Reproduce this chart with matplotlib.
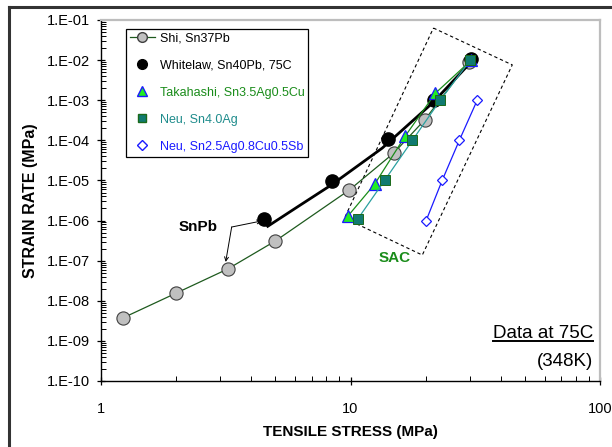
import numpy as np
import matplotlib
matplotlib.use("Agg")
import matplotlib.pyplot as plt
from matplotlib.lines import Line2D

plt.rcParams['font.family'] = ['Liberation Sans', 'DejaVu Sans']

# ---- data ----
shi_x = [1.22, 2.0, 3.22, 5.0, 9.9, 14.9, 19.8, 29.9]
shi_y = [3.7e-9, 1.55e-8, 6.2e-8, 3.1e-7, 5.8e-6, 4.8e-5, 3.2e-4, 9.0e-3]

whitelaw_x = [4.49, 8.4, 14.1, 21.7, 30.5]
whitelaw_y = [1.1e-6, 9.8e-6, 1.07e-4, 1.0e-3, 1.07e-2]
whitelaw_curve_x = [4.66, 6.25, 8.4, 13.4, 21.3, 29.9]
whitelaw_curve_y = [7.2e-7, 2.37e-6, 7.8e-6, 6.4e-5, 8.5e-4, 8.0e-3]

taka_x = [9.77, 12.5, 16.6, 21.9, 30.5]
taka_y = [1.3e-6, 8.1e-6, 1.3e-4, 1.5e-3, 1.0e-2]

neu_ag_x = [10.7, 13.7, 17.7, 22.9, 30.2]
neu_ag_y = [1.1e-6, 1.0e-5, 1.0e-4, 1.0e-3, 1.0e-2]

neu_sb_x = [20.1, 23.3, 27.3, 32.2]
neu_sb_y = [1.0e-6, 1.0e-5, 1.0e-4, 1.0e-3]

box_x = [21.5, 44.5, 19.4, 9.46, 21.5]
box_y = [6.3e-2, 7.6e-3, 1.38e-7, 1.15e-6, 6.3e-2]

labels = ["Shi, Sn37Pb", "Whitelaw, Sn40Pb, 75C", "Takahashi, Sn3.5Ag0.5Cu",
          "Neu, Sn4.0Ag", "Neu, Sn2.5Ag0.8Cu0.5Sb"]
label_colors = ["black", "black", "#1a8c1a", "#1f8c8c", "#1a1aff"]

ytick_vals = [1e-10, 1e-9, 1e-8, 1e-7, 1e-6, 1e-5, 1e-4, 1e-3, 1e-2, 1e-1]
ytick_labels = ["1.E-10", "1.E-09", "1.E-08", "1.E-07", "1.E-06",
                "1.E-05", "1.E-04", "1.E-03", "1.E-02", "1.E-01"]
xtick_vals = [1, 10, 100]
xtick_labels = ["1", "10", "100"]

snpb_text_pos = (2.44, 6.9e-7)
snpb_bend = (3.34, 6.9e-7)
snpb_targets = [(4.41, 9.8e-7), (3.16, 9.3e-8)]
sac_text_pos = (15.0, 1.17e-7)

# ---- figure ----
fig = plt.figure(figsize=(6.12, 4.47), dpi=100)
ax = fig.add_axes([101/612, 1-381/447, 499/612, 361/447])
ax.set_xscale('log')
ax.set_yscale('log')
ax.set_xlim(1, 100)
ax.set_ylim(1e-10, 1e-1)

# outer frame lines
fig.add_artist(Line2D([9/612, 9/612], [0, 1-7/447], transform=fig.transFigure,
                      color='#333333', lw=2.2))
fig.add_artist(Line2D([9/612, 1], [1-7/447, 1-7/447], transform=fig.transFigure,
                      color='#333333', lw=2.2))

# dashed box
ax.plot(box_x, box_y, color='black', lw=0.8, dashes=(3, 2.5), zorder=2)

# Shi
ax.plot(shi_x, shi_y, color='#1e5a1e', lw=0.9, marker='o', ms=9.5,
        mfc='#c0c0c0', mec='#404040', mew=0.8, zorder=3)
# Whitelaw
ax.plot(whitelaw_curve_x, whitelaw_curve_y, color='black', lw=2.0, zorder=4)
ax.plot(whitelaw_x, whitelaw_y, ls='none', marker='o', ms=9.5, mfc='black',
        mec='black', zorder=4)
# Takahashi
ax.plot(taka_x, taka_y, color='#1a8c1a', lw=0.9, marker='^', ms=8,
        mfc='#22ee22', mec='#1a1aff', mew=0.9, zorder=5)
# Neu Sn4.0Ag
ax.plot(neu_ag_x, neu_ag_y, color='#2aa0a0', lw=0.9, marker='s', ms=7,
        mfc='#107a70', mec='#1a6a1a', mew=0.7, zorder=6)
# Neu SAC Sb
ax.plot(neu_sb_x, neu_sb_y, color='#1a1aff', lw=0.9, marker='D', ms=5.5,
        mfc='white', mec='#1a1aff', mew=0.9, zorder=6)

# legend
handles = [
    Line2D([], [], color='#1e5a1e', lw=0.9, marker='o', ms=7, mfc='#c0c0c0', mec='#404040'),
    Line2D([], [], ls='none', marker='o', ms=7, mfc='black', mec='black'),
    Line2D([], [], ls='none', marker='^', ms=7, mfc='#22ee22', mec='#1a1aff'),
    Line2D([], [], ls='none', marker='s', ms=6, mfc='#107a70', mec='#1a6a1a'),
    Line2D([], [], ls='none', marker='D', ms=5, mfc='white', mec='#1a1aff'),
]
leg = ax.legend(handles, labels, loc='upper left', bbox_to_anchor=(0.05, 0.975),
                borderaxespad=0, fontsize=9, frameon=True, fancybox=False,
                edgecolor='black', framealpha=1, labelspacing=1.2,
                handlelength=2.0, handletextpad=0.4, borderpad=0.3)
leg.get_frame().set_linewidth(0.9)
for t, c in zip(leg.get_texts(), label_colors):
    t.set_color(c)

# annotations
ax.text(*snpb_text_pos, "SnPb", ha='center', va='center', fontsize=11,
        fontweight='bold')
for tgt in snpb_targets:
    ax.annotate("", xy=tgt, xytext=snpb_bend,
                arrowprops=dict(arrowstyle='->', lw=0.7, color='black',
                                shrinkA=0, shrinkB=0, mutation_scale=7))
ax.text(*sac_text_pos, "SAC", ha='center', va='center', fontsize=11,
        fontweight='bold', color='#1a8c1a')

t_data = ax.text(0.986, 0.119, "Data at 75C", transform=ax.transAxes,
                 ha='right', va='baseline', fontsize=13.5)
ax.text(0.986, 0.042, "(348K)", transform=ax.transAxes, ha='right',
        va='baseline', fontsize=13.5)

# axes styling
for s in ['top', 'right']:
    ax.spines[s].set_color('#bdbdbd')
    ax.spines[s].set_linewidth(1.6)
for s in ['left', 'bottom']:
    ax.spines[s].set_color('black')
    ax.spines[s].set_linewidth(1.0)

ax.set_yticks(ytick_vals)
ax.set_yticklabels(ytick_labels)
ax.set_xticks(xtick_vals)
ax.set_xticklabels(xtick_labels)
ax.tick_params(which='major', direction='inout', length=6, width=0.9,
               labelsize=10.5, top=False, right=False)
ax.tick_params(which='minor', direction='in', length=3.5, width=0.7,
               top=False, right=False)
ax.tick_params(axis='y', which='major', pad=5)
ax.tick_params(axis='x', which='major', pad=12)
ax.yaxis.set_minor_locator(matplotlib.ticker.LogLocator(base=10, subs=np.arange(2, 10), numticks=20))
ax.xaxis.set_minor_locator(matplotlib.ticker.LogLocator(base=10, subs=np.arange(2, 10), numticks=20))
ax.yaxis.set_minor_formatter(matplotlib.ticker.NullFormatter())
ax.xaxis.set_minor_formatter(matplotlib.ticker.NullFormatter())

ax.set_xlabel("TENSILE STRESS (MPa)", fontsize=11, fontweight='bold')
ax.xaxis.set_label_coords(0.5, (381-425)/361)
ax.set_ylabel("STRAIN RATE (MPa)", fontsize=11.5, fontweight='bold', va='center')
ax.yaxis.set_label_coords((31-101)/499, 0.5)

# underline for "Data at 75C"
fig.canvas.draw()
bb = t_data.get_window_extent(renderer=fig.canvas.get_renderer())
inv = fig.transFigure.inverted()
(x0, y0), (x1, _) = inv.transform([(bb.x0, bb.y0 + 1), (bb.x1, bb.y0 + 1)])
fig.add_artist(Line2D([x0, x1], [y0, y0], transform=fig.transFigure,
                      color='black', lw=1.4))

fig.savefig("out.png", dpi=100)
